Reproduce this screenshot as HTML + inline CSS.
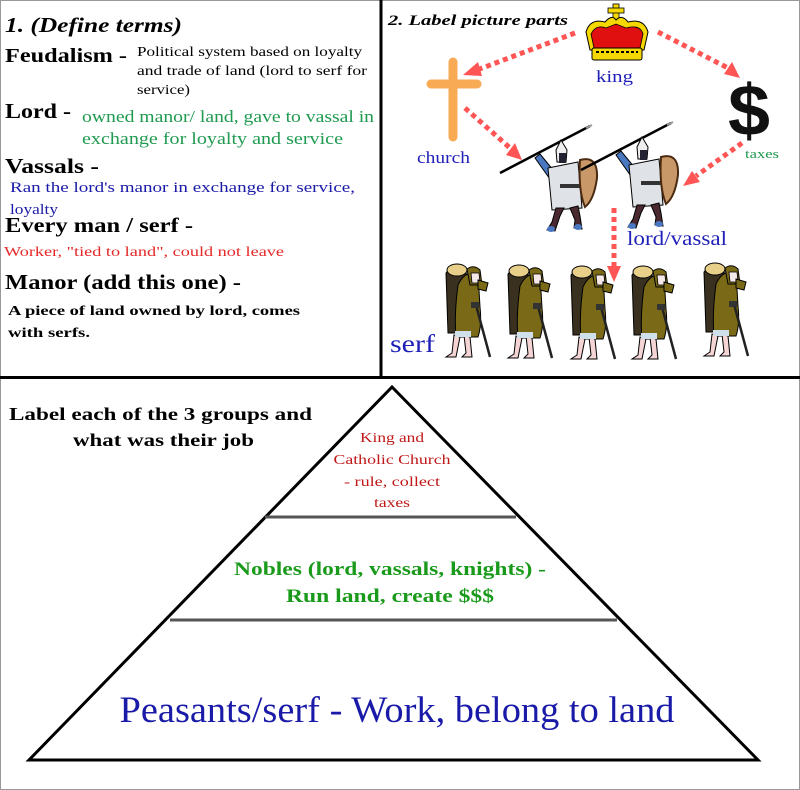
<!DOCTYPE html>
<html><head><meta charset="utf-8"><style>
html,body{margin:0;padding:0;background:#fff}
svg{display:block}
.s{font-family:"Liberation Serif",serif}
.a{font-family:"Liberation Sans",sans-serif}
</style></head><body>
<svg width="800" height="790" viewBox="0 0 800 790" xmlns="http://www.w3.org/2000/svg">
<defs>
<g id="knight">
  <line x1="500" y1="173" x2="590" y2="126" stroke="#000" stroke-width="2.5"/>
  <path d="M586 128 L592 125" stroke="#999" stroke-width="2"/>
  <path d="M535 158 L552 182 L558 176 L540 154Z" fill="#4a78c0" stroke="#000" stroke-width="1"/>
  <path d="M548 168 L578 162 L582 208 L552 210Z" fill="#dfe3e8" stroke="#000" stroke-width="1"/>
  <rect x="560" y="184" width="22" height="4" fill="#333"/>
  <path d="M556 150 L561 140 L567 150 L566 162 L557 162Z" fill="#eee" stroke="#000" stroke-width="1"/>
  <rect x="559" y="153" width="7" height="10" fill="#223"/>
  <path d="M580 160 Q598 155 597 178 Q594 200 585 207 Q578 190 580 160Z" fill="#c89868" stroke="#4a2a10" stroke-width="2"/>
  <path d="M556 208 L552 222 L547 230 L555 231 L560 216 L564 208Z" fill="#4a2a30" stroke="#000" stroke-width="1"/>
  <path d="M570 208 L575 220 L574 228 L582 229 L580 216 L578 206Z" fill="#4a2a30" stroke="#000" stroke-width="1"/>
  <ellipse cx="551" cy="229" rx="4" ry="3" fill="#4a78c0"/>
  <ellipse cx="578" cy="227" rx="4" ry="3" fill="#4a78c0"/>
</g>
<g id="serf">
  <path d="M6 18 Q14 8 26 14 L28 78 L8 78Z" fill="#3a3020" stroke="#000" stroke-width="1"/>
  <ellipse cx="17" cy="15" rx="10" ry="6" fill="#e8d08a" stroke="#000" stroke-width="1"/>
  <path d="M18 30 Q25 15 38 18 L40 52 Q42 70 38 82 L16 82 Q14 60 18 30Z" fill="#7a6a18" stroke="#000" stroke-width="1"/>
  <path d="M27 14 Q34 9 40 15 L42 30 L30 30Z" fill="#7a6a18" stroke="#000" stroke-width="1"/>
  <path d="M31 18 L39 18 L40 28 L32 28Z" fill="#f5e8e8" stroke="#000" stroke-width="0.8"/>
  <path d="M38 25 L48 28 L46 36 L38 34Z" fill="#7a6a18" stroke="#000" stroke-width="1"/>
  <line x1="36" y1="50" x2="50" y2="102" stroke="#222" stroke-width="2.5"/>
  <rect x="31" y="47" width="8" height="6" fill="#333"/>
  <path d="M14 80 L12 98 L6 102 L16 102 L20 82Z" fill="#f4d4d4" stroke="#000" stroke-width="1"/>
  <path d="M24 80 L26 98 L22 102 L32 102 L30 82Z" fill="#f4d4d4" stroke="#000" stroke-width="1"/>
  <rect x="15" y="76" width="16" height="6" fill="#cfe0ea"/>
</g>
</defs>

<rect x="0.5" y="0.5" width="799" height="789" fill="none" stroke="#999" stroke-width="1"/>
<line x1="381" y1="0" x2="381" y2="378" stroke="#000" stroke-width="3"/>
<line x1="0" y1="377.5" x2="800" y2="377.5" stroke="#000" stroke-width="3"/>

<g class="s">
<text x="5" y="32" font-size="21" font-weight="bold" font-style="italic" textLength="177" lengthAdjust="spacingAndGlyphs">1.  (Define terms)</text>
<text x="5" y="62" font-size="20" font-weight="bold" textLength="122" lengthAdjust="spacingAndGlyphs">Feudalism -</text>
<text x="137" y="56" font-size="14" textLength="225" lengthAdjust="spacingAndGlyphs">Political system based on loyalty</text>
<text x="137" y="75" font-size="14" textLength="230" lengthAdjust="spacingAndGlyphs">and trade of land (lord to serf for</text>
<text x="137" y="94" font-size="14" textLength="53" lengthAdjust="spacingAndGlyphs">service)</text>
<text x="5" y="118" font-size="21" font-weight="bold" textLength="66" lengthAdjust="spacingAndGlyphs">Lord -</text>
<text x="82" y="122" font-size="17" fill="#1f9a50" textLength="292" lengthAdjust="spacingAndGlyphs">owned manor/ land, gave to vassal in</text>
<text x="82" y="144" font-size="17" fill="#1f9a50" textLength="261" lengthAdjust="spacingAndGlyphs">exchange for loyalty and service</text>
<text x="5" y="173" font-size="21" font-weight="bold" textLength="94" lengthAdjust="spacingAndGlyphs">Vassals -</text>
<text x="10" y="192" font-size="15" fill="#1a1aa8" textLength="345" lengthAdjust="spacingAndGlyphs">Ran the lord's manor in exchange for service,</text>
<text x="10" y="214" font-size="15" fill="#1a1aa8" textLength="48" lengthAdjust="spacingAndGlyphs">loyalty</text>
<text x="5" y="232" font-size="21" font-weight="bold" textLength="188" lengthAdjust="spacingAndGlyphs">Every man / serf -</text>
<text x="4" y="256" font-size="14" fill="#e52828" textLength="280" lengthAdjust="spacingAndGlyphs">Worker, "tied to land", could not leave</text>
<text x="5" y="289" font-size="21" font-weight="bold" textLength="236" lengthAdjust="spacingAndGlyphs">Manor (add this one) -</text>
<text x="8" y="315" font-size="14" font-weight="bold" textLength="292" lengthAdjust="spacingAndGlyphs">A piece of land owned by lord, comes</text>
<text x="8" y="337" font-size="14" font-weight="bold" textLength="82" lengthAdjust="spacingAndGlyphs">with serfs.</text>
<text x="388" y="25" font-size="15" font-weight="bold" font-style="italic" textLength="180" lengthAdjust="spacingAndGlyphs">2.  Label picture parts</text>
</g>
<g>
  <rect x="613" y="4" width="6" height="16" fill="#f5d800" stroke="#000" stroke-width="0.8"/>
  <rect x="608" y="8" width="16" height="5" fill="#f5d800" stroke="#000" stroke-width="0.8"/>
  <path d="M586 32 Q590 18 605 22 Q612 14 616 20 Q622 14 628 22 Q644 18 648 32 L644 50 L590 50Z" fill="#f5d800" stroke="#000" stroke-width="1"/>
  <path d="M591 34 Q596 24 606 28 L616 24 L626 28 Q640 24 643 34 L640 48 L594 48Z" fill="#e01010" stroke="#000" stroke-width="0.8"/>
  <rect x="592" y="48" width="50" height="12" rx="2" fill="#f5d800" stroke="#000" stroke-width="1"/>
  <path d="M596 52 h42" stroke="#000" stroke-width="2" stroke-dasharray="3 2"/>
</g>
<text class="s" x="596" y="82" font-size="17" fill="#2020b8" textLength="37" lengthAdjust="spacingAndGlyphs">king</text>
<line x1="453" y1="62" x2="453" y2="137" stroke="#f8aa55" stroke-width="9" stroke-linecap="round"/>
<line x1="431" y1="84" x2="477" y2="84" stroke="#f8aa55" stroke-width="9" stroke-linecap="round"/>
<text class="s" x="417" y="163" font-size="17" fill="#2020b8" textLength="53" lengthAdjust="spacingAndGlyphs">church</text>
<text class="a" x="728" y="135" font-size="72" font-weight="bold" fill="#111" textLength="42" lengthAdjust="spacingAndGlyphs">$</text>
<text class="s" x="745" y="158" font-size="13" fill="#1f9a50" textLength="34" lengthAdjust="spacingAndGlyphs">taxes</text>
<g stroke="#f55" stroke-width="5" stroke-dasharray="5 4" fill="none">
  <path d="M575 33 L477 70"/>
  <path d="M658 32 L728 68"/>
  <path d="M465 108 L510 148"/>
  <path d="M742 143 L696 176"/>
  <path d="M614 208 L614 268"/>
</g>
<g fill="#f55">
  <path d="M463 75 L478 62 L482 76Z"/>
  <path d="M740 78 L724 74 L732 62Z"/>
  <path d="M522 160 L506 155 L515 143Z"/>
  <path d="M683 186 L692 171 L700 182Z"/>
  <path d="M614 282 L607 266 L621 266Z"/>
</g>
<use href="#knight"/>
<use href="#knight" transform="translate(81,-3)"/>
<text class="s" x="627" y="245" font-size="20" fill="#2020b8" textLength="100" lengthAdjust="spacingAndGlyphs">lord/vassal</text>
<use href="#serf" transform="translate(440,255)"/>
<use href="#serf" transform="translate(502,256)"/>
<use href="#serf" transform="translate(565,257)"/>
<use href="#serf" transform="translate(626,257)"/>
<use href="#serf" transform="translate(698,254)"/>
<text class="s" x="390" y="352" font-size="25" fill="#2020b8" textLength="45" lengthAdjust="spacingAndGlyphs">serf</text>

<g class="s">
<text x="9" y="420" font-size="18" font-weight="bold" textLength="303" lengthAdjust="spacingAndGlyphs">Label each of the 3 groups and</text>
<text x="73" y="446" font-size="18" font-weight="bold" textLength="181" lengthAdjust="spacingAndGlyphs">what was their job</text>
</g>
<path d="M392 387 L29 760 L758 760Z" fill="none" stroke="#000" stroke-width="3"/>
<line x1="265" y1="517" x2="516" y2="517" stroke="#555" stroke-width="3"/>
<line x1="170" y1="620" x2="617" y2="620" stroke="#555" stroke-width="3"/>
<g class="s" text-anchor="middle">
<text x="392" y="442" font-size="14" fill="#c01818" textLength="64" lengthAdjust="spacingAndGlyphs">King and</text>
<text x="392" y="464" font-size="14" fill="#c01818" textLength="117" lengthAdjust="spacingAndGlyphs">Catholic Church</text>
<text x="392" y="486" font-size="14" fill="#c01818" textLength="96" lengthAdjust="spacingAndGlyphs">- rule, collect</text>
<text x="392" y="507" font-size="14" fill="#c01818" textLength="36" lengthAdjust="spacingAndGlyphs">taxes</text>
<text x="390" y="575" font-size="19" font-weight="bold" fill="#1a9a1a" textLength="312" lengthAdjust="spacingAndGlyphs">Nobles (lord, vassals, knights) -</text>
<text x="390" y="602" font-size="19" font-weight="bold" fill="#1a9a1a" textLength="208" lengthAdjust="spacingAndGlyphs">Run land, create $$$</text>
<text x="397" y="722" font-size="37" fill="#1a1aa8" textLength="555" lengthAdjust="spacingAndGlyphs">Peasants/serf - Work, belong to land</text>
</g>
</svg>
</body></html>
